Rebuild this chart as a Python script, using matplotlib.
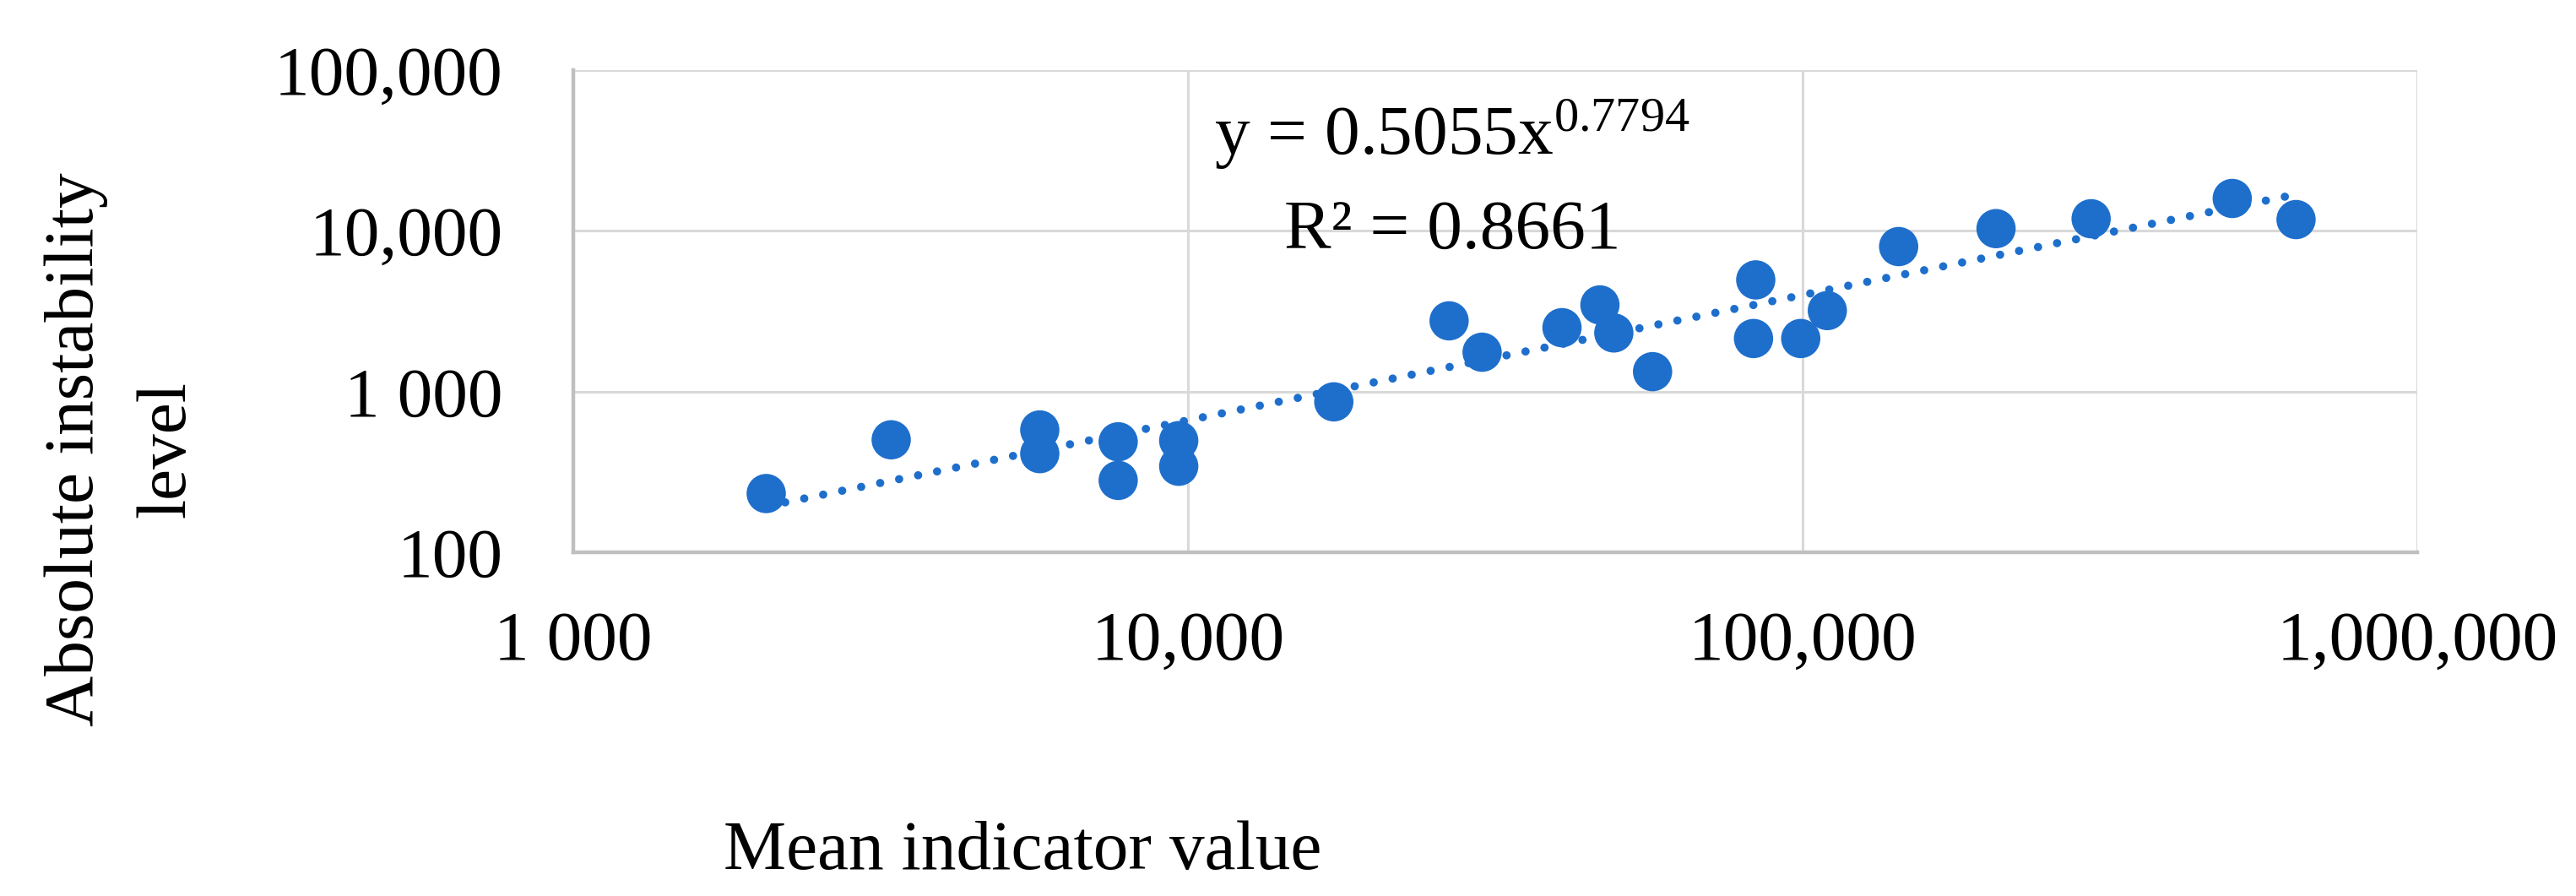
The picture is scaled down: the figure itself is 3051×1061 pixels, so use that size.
import matplotlib
matplotlib.use("Agg")
import matplotlib.pyplot as plt
import numpy as np

# ---- data ----
mean_indicator = [2060, 3290, 5740, 5740, 7700, 7700, 9660, 9660, 17270,
                  26600, 30100, 40600, 46800, 49300, 57000, 83900, 83200,
                  99300, 109700, 143300, 206400, 294700, 500000, 635000]
instability = [232, 501, 577, 411, 487, 280, 495, 343, 863,
               2754, 1757, 2497, 3460, 2316, 1330, 4950, 2138,
               2138, 3190, 7980, 10320, 11890, 15900, 11750]

fit_coef = 0.5055
fit_exp = 0.7794
r_squared = 0.8661

x_ticks = [1000, 10000, 100000, 1000000]
x_tick_labels = ["1 000", "10,000", "100,000", "1,000,000"]
y_ticks = [100, 1000, 10000, 100000]
y_tick_labels = ["100", "1 000", "10,000", "100,000"]

x_label = "Mean indicator value"
y_label_lines = ["Absolute instability", "level"]

# ---- style ----
FONT = "Liberation Serif"
plt.rcParams["font.family"] = [FONT, "DejaVu Serif"]
plt.rcParams["mathtext.fontset"] = "custom"
plt.rcParams["mathtext.rm"] = FONT
plt.rcParams["mathtext.it"] = FONT + ":italic"
plt.rcParams["mathtext.bf"] = FONT + ":bold"

W, H = 3051, 1061
fig = plt.figure(figsize=(W / 100, H / 100), dpi=100)
fig.patch.set_facecolor("white")

L, R, T, B = 679, 2863, 83, 654
ax = fig.add_axes([L / W, 1 - B / H, (R - L) / W, (B - T) / H])

blue = "#1E6FCC"
fs = 60

ax.set_xscale("log")
ax.set_yscale("log")
ax.set_xlim(1000, 1000000)
ax.set_ylim(100, 100000)

# trendline (power fit)
xs = np.logspace(np.log10(min(mean_indicator)), np.log10(max(mean_indicator)), 200)
ax.plot(xs, fit_coef * xs ** fit_exp, color=blue, lw=7.0,
        linestyle=(0, (0.01, 2.35)), dash_capstyle="round", zorder=2)

ax.scatter(mean_indicator, instability, s=33.5 ** 2, color=blue,
           edgecolors="none", zorder=3)

ax.set_xticks(x_ticks)
ax.set_xticklabels(x_tick_labels, fontsize=fs)
ax.set_yticks(y_ticks)
ax.set_yticklabels(y_tick_labels, fontsize=fs)
ax.minorticks_off()
ax.tick_params(axis="both", length=0)
ax.tick_params(axis="x", pad=50)
ax.tick_params(axis="y", pad=60)

ax.grid(True, which="major", color="#d9d9d9", lw=2.2, zorder=0)
ax.set_axisbelow(True)
for s in ["top", "right"]:
    ax.spines[s].set_visible(False)
for s in ["left", "bottom"]:
    ax.spines[s].set_color("#bfbfbf")
    ax.spines[s].set_linewidth(3.2)

# equation text
cx = 1720 / W
fig.text(cx, 1 - 183 / H, r"y = 0.5055x$^{0.7794}$", fontsize=fs,
         ha="center", va="baseline")
fig.text(cx, 1 - 295 / H, "R² = 0.8661", fontsize=fs,
         ha="center", va="baseline")

# axis labels
fig.text(1211 / W, 1 - 1029 / H, x_label, fontsize=fs, ha="center", va="baseline")
fig.text(110 / W, 1 - 532 / H, y_label_lines[0], fontsize=fs, rotation=90,
         rotation_mode="anchor", ha="center", va="baseline")
fig.text(218 / W, 1 - 532 / H, y_label_lines[1], fontsize=fs, rotation=90,
         rotation_mode="anchor", ha="center", va="baseline")

fig.savefig("out.png", dpi=100, facecolor="white")
